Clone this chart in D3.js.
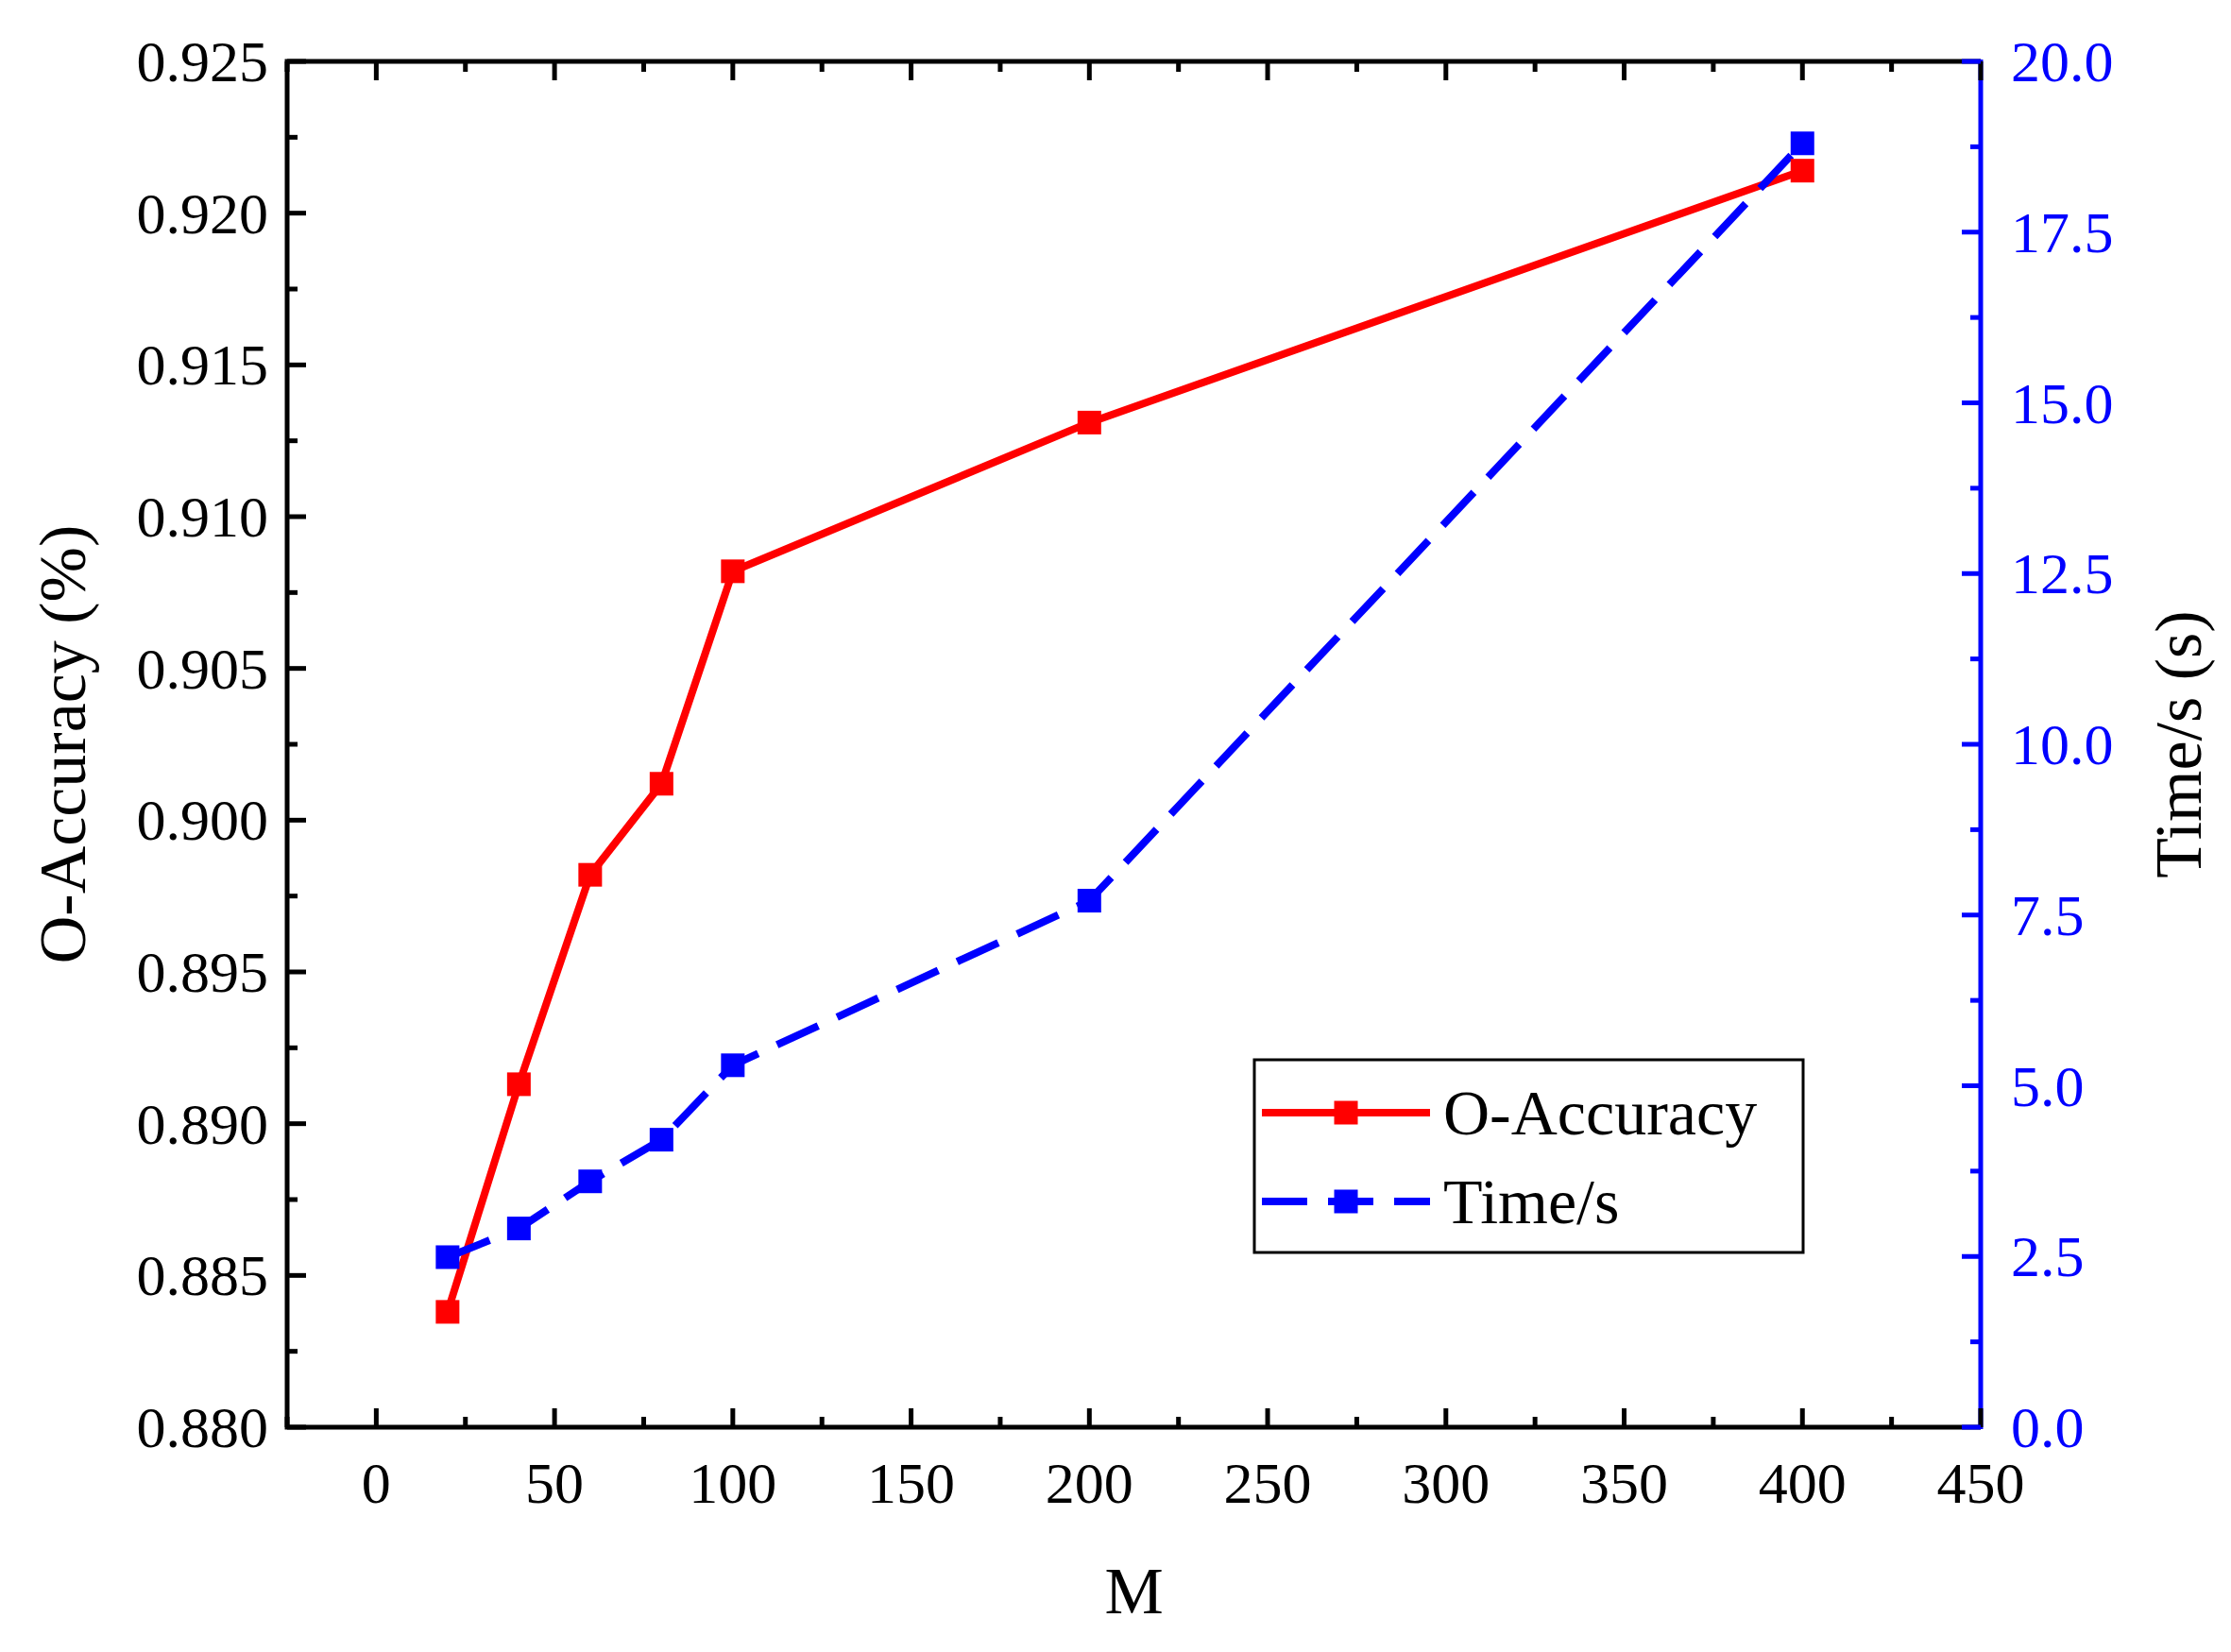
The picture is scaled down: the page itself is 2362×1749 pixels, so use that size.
<!DOCTYPE html>
<html><head><meta charset="utf-8">
<script src="https://cdn.jsdelivr.net/npm/d3@7"></script>
<style>body{margin:0;background:#fff}</style>
</head><body>
<svg id="chart" width="2362" height="1749"></svg>
<script>
const mValues = [20, 40, 60, 80, 100, 200, 400];
const accuracy = [0.8838, 0.8913, 0.8982, 0.9012, 0.9082, 0.9131, 0.9214];
const timeS = [2.49, 2.91, 3.60, 4.21, 5.30, 7.71, 18.8];
const xTicks = [0, 50, 100, 150, 200, 250, 300, 350, 400, 450];
const accTicks = [0.880, 0.885, 0.890, 0.895, 0.900, 0.905, 0.910, 0.915, 0.920, 0.925];
const timeTicks = [0, 2.5, 5, 7.5, 10, 12.5, 15, 17.5, 20];

const svg = d3.select("#chart");
const font = "'Liberation Serif', 'Times New Roman', serif";
const L = 304, R = 2097, T = 65, B = 1511;

const x = d3.scaleLinear().domain([-25, 450]).range([L, R]);
const yA = d3.scaleLinear().domain([0.880, 0.925]).range([B, T]);
const yT = d3.scaleLinear().domain([0, 20]).range([B, T]);

// frame
svg.append("path").attr("d", `M${R},${T}H${L}V${B}H${R}`)
  .attr("fill", "none").attr("stroke", "#000").attr("stroke-width", 5);
svg.append("line").attr("x1", R).attr("x2", R).attr("y1", T - 2).attr("y2", B + 2)
  .attr("stroke", "#00f").attr("stroke-width", 5);

const g = svg.append("g");
// x ticks (bottom and top, inward)
const xMinor = d3.range(-25, 451, 25);
xMinor.forEach(v => {
  const major = v % 50 === 0;
  const len = major ? 20 : 11;
  g.append("line").attr("x1", x(v)).attr("x2", x(v)).attr("y1", B).attr("y2", B - len).attr("stroke", "#000").attr("stroke-width", 5);
  g.append("line").attr("x1", x(v)).attr("x2", x(v)).attr("y1", T).attr("y2", T + len).attr("stroke", "#000").attr("stroke-width", 5);
});
xTicks.forEach(v => {
  g.append("text").attr("x", x(v)).attr("y", B + 80).attr("text-anchor", "middle")
    .attr("font-family", font).attr("font-size", 62).text(v);
});
// left ticks
d3.range(0, 19).forEach(i => {
  const v = 0.880 + i * 0.0025;
  const major = i % 2 === 0;
  g.append("line").attr("x1", L).attr("x2", L + (major ? 20 : 11)).attr("y1", yA(v)).attr("y2", yA(v)).attr("stroke", "#000").attr("stroke-width", 5);
});
accTicks.forEach(v => {
  g.append("text").attr("x", L - 20).attr("y", yA(v) + 21).attr("text-anchor", "end")
    .attr("font-family", font).attr("font-size", 62).text(d3.format(".3f")(v));
});
// right ticks (blue)
d3.range(0, 17).forEach(i => {
  const v = i * 1.25;
  const major = i % 2 === 0;
  g.append("line").attr("x1", R).attr("x2", R - (major ? 20 : 11)).attr("y1", yT(v)).attr("y2", yT(v)).attr("stroke", "#00f").attr("stroke-width", 5);
});
timeTicks.forEach(v => {
  g.append("text").attr("x", R + 32).attr("y", yT(v) + 21).attr("text-anchor", "start")
    .attr("fill", "#00f").attr("font-family", font).attr("font-size", 62).text(d3.format(".1f")(v));
});

// titles
svg.append("text").attr("x", (L + R) / 2).attr("y", 1708).attr("text-anchor", "middle")
  .attr("font-family", font).attr("font-size", 70).text("M");
svg.append("text").attr("transform", `translate(90,${(T + B) / 2}) rotate(-90)`).attr("text-anchor", "middle")
  .attr("font-family", font).attr("font-size", 70).text("O-Accuracy (%)");
svg.append("text").attr("transform", `translate(2330,${(T + B) / 2}) rotate(-90)`).attr("text-anchor", "middle")
  .attr("font-family", font).attr("font-size", 70).text("Time/s (s)");

// series
const accData = mValues.map((m, i) => [m, accuracy[i]]);
const timeData = mValues.map((m, i) => [m, timeS[i]]);
const ms = 25;
svg.append("path").datum(accData)
  .attr("d", d3.line().x(d => x(d[0])).y(d => yA(d[1])))
  .attr("fill", "none").attr("stroke", "#f00").attr("stroke-width", 8);
svg.append("path").datum(timeData)
  .attr("d", d3.line().x(d => x(d[0])).y(d => yT(d[1])))
  .attr("fill", "none").attr("stroke", "#00f").attr("stroke-width", 8).attr("stroke-dasharray", "48,22");
svg.selectAll(".ma").data(accData).join("rect")
  .attr("x", d => x(d[0]) - ms / 2).attr("y", d => yA(d[1]) - ms / 2).attr("width", ms).attr("height", ms).attr("fill", "#f00");
svg.selectAll(".mt").data(timeData).join("rect")
  .attr("x", d => x(d[0]) - ms / 2).attr("y", d => yT(d[1]) - ms / 2).attr("width", ms).attr("height", ms).attr("fill", "#00f");

// legend
const lg = svg.append("g").attr("transform", "translate(1328,1122)");
lg.append("rect").attr("width", 581).attr("height", 204).attr("fill", "#fff").attr("stroke", "#000").attr("stroke-width", 3);
const items = [{ name: "O-Accuracy", color: "#f00", dash: null }, { name: "Time/s", color: "#00f", dash: "48,22" }];
items.forEach((it, i) => {
  const cy = 56 + i * 94;
  lg.append("line").attr("x1", 8).attr("x2", 186).attr("y1", cy).attr("y2", cy)
    .attr("stroke", it.color).attr("stroke-width", 8).attr("stroke-dasharray", it.dash);
  lg.append("rect").attr("x", 97 - ms / 2).attr("y", cy - ms / 2).attr("width", ms).attr("height", ms).attr("fill", it.color);
  lg.append("text").attr("x", 200).attr("y", cy + 23).attr("font-family", font).attr("font-size", 68).text(it.name);
});
</script>
</body></html>
